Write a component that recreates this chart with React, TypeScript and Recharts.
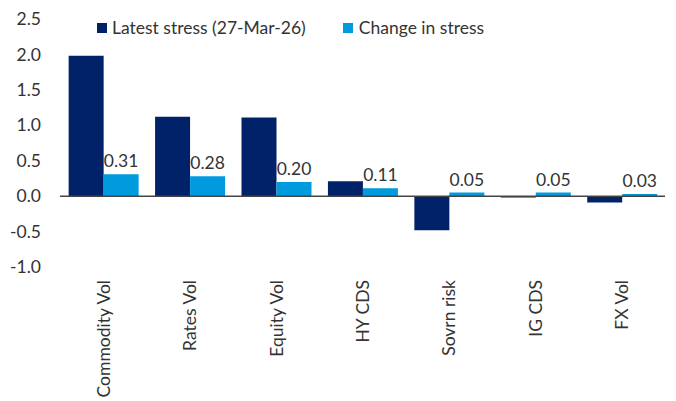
import React from "react";
import {
  BarChart,
  Bar,
  XAxis,
  YAxis,
  ReferenceLine,
  Legend,
  LabelList,
} from "recharts";

const categories = ["Commodity Vol", "Rates Vol", "Equity Vol", "HY CDS", "Sovrn risk", "IG CDS", "FX Vol"];
const latestStress = [1.98, 1.12, 1.11, 0.21, -0.48, -0.02, -0.09];
const changeInStress = [0.31, 0.28, 0.2, 0.11, 0.05, 0.05, 0.03];
const yTicks = [-1, -0.5, 0, 0.5, 1, 1.5, 2, 2.5];
const seriesNames = ["Latest stress (27-Mar-26)", "Change in stress"];

const NAVY = "#012169";
const BLUE = "#009ADE";
const TEXT = "#333333";
const FONT = "Lato, 'Open Sans', sans-serif";
const FS = 17.5;

const data = categories.map((name, i) => ({
  name,
  latest: latestStress[i],
  change: changeInStress[i],
}));

// tick labels on the x axis are turned to read bottom-to-top
const RotatedTick = (props: any) => {
  const { x, y, payload } = props;
  return (
    <text
      transform={`translate(${x},${y + 13}) rotate(-90)`}
      textAnchor="end"
      dominantBaseline="central"
      fill={TEXT}
      fontSize={FS}
      fontFamily={FONT}
    >
      {payload.value}
    </text>
  );
};

const LegendBox = () => (
  <div style={{ display: "flex", alignItems: "center", fontFamily: FONT, fontSize: FS, color: TEXT, whiteSpace: "nowrap" }}>
    <span style={{ width: 10, height: 10, background: NAVY, marginRight: 5, display: "inline-block" }} />
    <span style={{ marginRight: 37 }}>{seriesNames[0]}</span>
    <span style={{ width: 10, height: 10, background: BLUE, marginRight: 6, display: "inline-block" }} />
    <span>{seriesNames[1]}</span>
  </div>
);

export default function App() {
  return (
    <div style={{ position: "absolute", left: 0, top: 0, width: 676, height: 401, background: "#fff" }}>
      <BarChart
        width={676}
        height={401}
        data={data}
        margin={{ top: 19, right: 11, left: 0, bottom: 0 }}
        barCategoryGap="10%"
        barGap={0}
      >
        <XAxis
          dataKey="name"
          axisLine={false}
          tickLine={false}
          tickSize={0}
          tickMargin={0}
          height={134}
          interval={0}
          tick={RotatedTick}
        />
        <YAxis
          domain={[-1, 2.5]}
          ticks={yTicks}
          axisLine={false}
          tickLine={false}
          tickSize={0}
          tickMargin={19}
          width={60}
          tickFormatter={(v: number) => v.toFixed(1)}
          tick={{ fill: TEXT, fontSize: FS, fontFamily: FONT }}
        />
        <Legend
          layout="horizontal"
          verticalAlign="middle"
          align="center"
          wrapperStyle={{ top: 17, left: 97, width: 480 }}
          content={LegendBox}
        />
        <Bar dataKey="latest" name={seriesNames[0]} fill={NAVY} isAnimationActive={false} />
        <Bar dataKey="change" name={seriesNames[1]} fill={BLUE} isAnimationActive={false}>
          <LabelList
            dataKey="change"
            position="top"
            offset={7}
            formatter={(v: any) => Number(v).toFixed(2)}
            fill={TEXT}
            fontSize={FS}
            fontFamily={FONT}
          />
        </Bar>
        <ReferenceLine y={0} stroke="#444" strokeWidth={1.5} />
      </BarChart>
    </div>
  );
}
